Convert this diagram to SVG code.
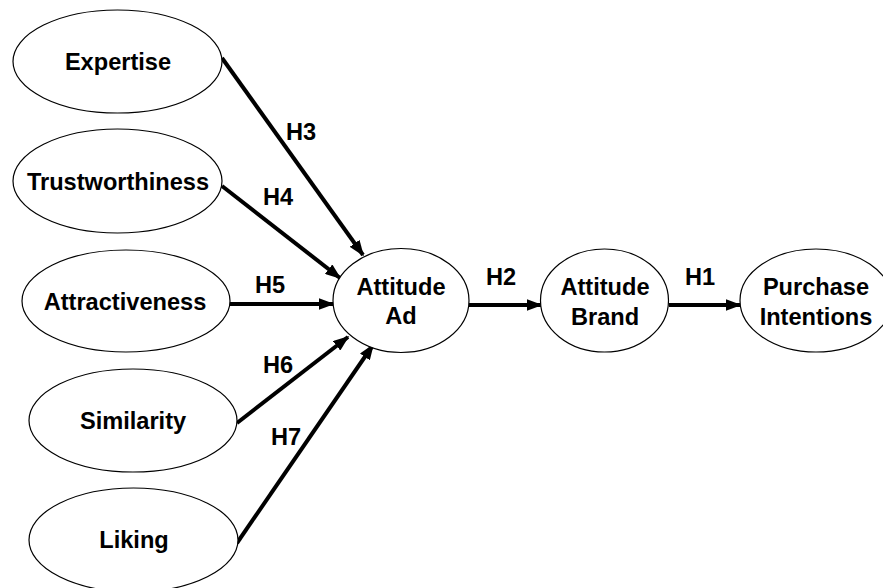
<svg xmlns="http://www.w3.org/2000/svg" width="883" height="588" viewBox="0 0 883 588">
<style>
.n{fill:#fff;stroke:#000;stroke-width:1.2}
.t{font-family:"Liberation Sans",Arial,sans-serif;font-weight:bold;font-size:23.6px;fill:#000;text-anchor:middle}
.c{stroke:#000;stroke-width:4;fill:none;marker-end:url(#ah)}
</style>
<defs>
<marker id="ah" markerWidth="4" markerHeight="3" refX="3.6" refY="1.5" orient="auto" markerUnits="strokeWidth">
<path d="M0,0 L4,1.5 L0,3 Z" fill="#000"/>
</marker>
</defs>
<rect width="883" height="588" fill="#fff"/>
<g id="connectors">
<line class="c" x1="222" y1="58" x2="363" y2="255"/>
<line class="c" x1="222" y1="186" x2="340" y2="278"/>
<line class="c" x1="230" y1="304" x2="333" y2="304"/>
<line class="c" x1="237" y1="423" x2="348" y2="337"/>
<line class="c" x1="237" y1="543" x2="373" y2="345"/>
<line class="c" x1="469" y1="305" x2="541" y2="305"/>
<line class="c" x1="669" y1="305" x2="740" y2="305"/>
<text class="t" x="301" y="140">H3</text>
<text class="t" x="278" y="205">H4</text>
<text class="t" x="270" y="293">H5</text>
<text class="t" x="278" y="373">H6</text>
<text class="t" x="286" y="445">H7</text>
<text class="t" x="501" y="285">H2</text>
<text class="t" x="700" y="285">H1</text>
</g>
<g id="expertise">
<ellipse class="n" cx="117.5" cy="61.5" rx="104.5" ry="51.5"/>
<text class="t" x="118" y="70">Expertise</text>
</g>
<g id="trustworthiness">
<ellipse class="n" cx="117.5" cy="181" rx="104.5" ry="52"/>
<text class="t" x="118" y="190">Trustworthiness</text>
</g>
<g id="attractiveness">
<ellipse class="n" cx="126" cy="301" rx="104" ry="51"/>
<text class="t" x="125" y="310">Attractiveness</text>
</g>
<g id="similarity">
<ellipse class="n" cx="133" cy="420.5" rx="104" ry="51.5"/>
<text class="t" x="133" y="429">Similarity</text>
</g>
<g id="liking">
<ellipse class="n" cx="133.5" cy="540" rx="104.5" ry="52"/>
<text class="t" x="134" y="548">Liking</text>
</g>
<g id="attitude-ad">
<ellipse class="n" cx="401" cy="300.5" rx="68" ry="52"/>
<text class="t" x="401" y="295">Attitude</text>
<text class="t" x="401" y="324">Ad</text>
</g>
<g id="attitude-brand">
<ellipse class="n" cx="604.5" cy="300.5" rx="64" ry="51.5"/>
<text class="t" x="605" y="295">Attitude</text>
<text class="t" x="605" y="325">Brand</text>
</g>
<g id="purchase-intentions">
<ellipse class="n" cx="816" cy="300.5" rx="76" ry="51.5"/>
<text class="t" x="816" y="295">Purchase</text>
<text class="t" x="816" y="325">Intentions</text>
</g>
</svg>
